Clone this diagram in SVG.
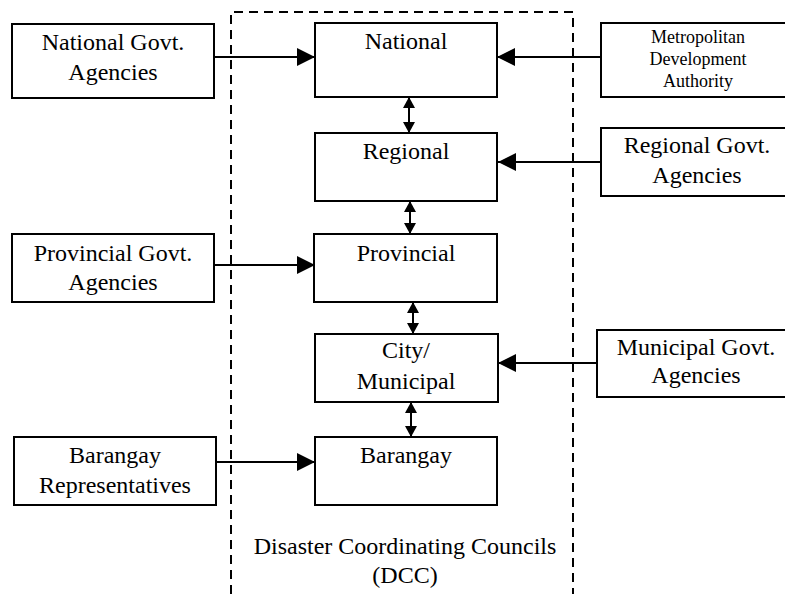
<svg xmlns="http://www.w3.org/2000/svg" width="785" height="594" viewBox="0 0 785 594">
<style>
.box{fill:#fff;stroke:#000;stroke-width:2}
.t{font-family:"Liberation Serif","Times New Roman",serif;font-size:24px;fill:#000;text-anchor:middle}
.s{font-size:18px}
.c{stroke:#000;stroke-width:2;fill:none}
.big{marker-end:url(#ah)}
.dbl{marker-start:url(#sh);marker-end:url(#sh)}
</style>
<defs>
<marker id="ah" markerUnits="userSpaceOnUse" viewBox="0 0 18 18" refX="18" refY="9" markerWidth="18" markerHeight="18" orient="auto"><path d="M0,0 L18,9 L0,18 z" fill="#000"/></marker>
<marker id="sh" markerUnits="userSpaceOnUse" viewBox="0 0 11 12" refX="11" refY="6" markerWidth="11" markerHeight="12" orient="auto-start-reverse"><path d="M0,0 L11,6 L0,12 z" fill="#000"/></marker>
</defs>
<rect width="785" height="594" fill="#fff"/>
<g id="dcc">
<path d="M231,594 V12 H573 V594" fill="none" stroke="#000" stroke-width="2" stroke-dasharray="9,6"/>
<text class="t" x="405" y="554">Disaster Coordinating  Councils</text>
<text class="t" x="405" y="583">(DCC)</text>
</g>
<g id="connectors">
<line class="c big" x1="214" y1="57" x2="315" y2="57"/>
<line class="c big" x1="601" y1="57" x2="497" y2="57"/>
<line class="c big" x1="601" y1="162" x2="498" y2="162"/>
<line class="c big" x1="214" y1="265" x2="315" y2="265"/>
<line class="c big" x1="597" y1="363" x2="498" y2="363"/>
<line class="c big" x1="216" y1="462" x2="315" y2="462"/>
<line class="c dbl" x1="409" y1="97" x2="409" y2="133"/>
<line class="c dbl" x1="410" y1="201" x2="410" y2="234"/>
<line class="c dbl" x1="413" y1="302" x2="413" y2="334"/>
<line class="c dbl" x1="411" y1="402" x2="411" y2="437"/>
</g>
<g id="national-govt">
<rect class="box" x="12" y="24" width="202" height="74"/>
<text class="t" x="113" y="50">National Govt.</text>
<text class="t" x="113" y="80">Agencies</text>
</g>
<g id="provincial-govt">
<rect class="box" x="12" y="234" width="202" height="68"/>
<text class="t" x="113" y="261">Provincial Govt.</text>
<text class="t" x="113" y="290">Agencies</text>
</g>
<g id="barangay-rep">
<rect class="box" x="14" y="437" width="202" height="68"/>
<text class="t" x="115" y="463">Barangay</text>
<text class="t" x="115" y="493">Representatives</text>
</g>
<g id="national">
<rect class="box" x="315" y="23" width="182" height="74"/>
<text class="t" x="406" y="49">National</text>
</g>
<g id="regional">
<rect class="box" x="315" y="133" width="182" height="68"/>
<text class="t" x="406" y="159">Regional</text>
</g>
<g id="provincial">
<rect class="box" x="314" y="234" width="183" height="68"/>
<text class="t" x="406" y="261">Provincial</text>
</g>
<g id="city-municipal">
<rect class="box" x="315" y="334" width="183" height="68"/>
<text class="t" x="406" y="358">City/</text>
<text class="t" x="406" y="389">Municipal</text>
</g>
<g id="barangay">
<rect class="box" x="315" y="437" width="182" height="68"/>
<text class="t" x="406" y="463">Barangay</text>
</g>
<g id="metro">
<rect class="box" x="601" y="23" width="194" height="74"/>
<text class="t s" x="698" y="43">Metropolitan</text>
<text class="t s" x="698" y="65">Development</text>
<text class="t s" x="698" y="87">Authority</text>
</g>
<g id="regional-govt">
<rect class="box" x="601" y="128" width="194" height="68"/>
<text class="t" x="697" y="153">Regional Govt.</text>
<text class="t" x="697" y="183">Agencies</text>
</g>
<g id="municipal-govt">
<rect class="box" x="597" y="330" width="198" height="67"/>
<text class="t" x="696" y="355">Municipal Govt.</text>
<text class="t" x="696" y="383">Agencies</text>
</g>
</svg>
